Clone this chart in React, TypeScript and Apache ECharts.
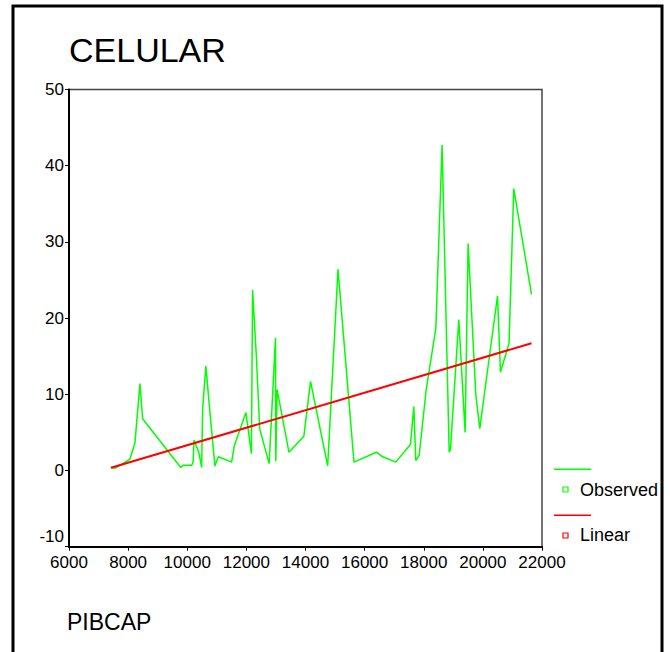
import React, { useEffect, useRef } from "react";
import * as echarts from "echarts";

const TITLE = "CELULAR";
const X_NAME = "PIBCAP";
const SERIES_NAMES = ["Observed", "Linear"];

// Observed: [PIBCAP, CELULAR], sorted by PIBCAP
const observedX = [
  7410, 7560, 7700, 8060, 8230, 8400, 8490, 9780, 9870, 10150, 10200, 10226,
  10390, 10487, 10520, 10630, 10780, 10936, 11050, 11500, 11590, 11985, 12170,
  12210, 12340, 12450, 12770, 12985, 12995, 13040, 13440, 13945, 14170, 14750,
  15100, 15640, 16400, 16610, 17050, 17550, 17665, 17730, 17845, 18080, 18410,
  18620, 18860, 18905, 19185, 19400, 19500, 19760, 19895, 20495, 20595, 20885,
  21045, 21645,
];
const observedY = [
  0.4, 0.3, 0.6, 1.5, 3.6, 11.4, 6.8, 0.4, 0.7, 0.7, 1.1, 4.0,
  2.4, 0.4, 8.0, 13.7, 7.1, 0.6, 1.8, 1.1, 3.2, 7.6, 2.2,
  23.7, 14.8, 5.5, 0.9, 17.4, 1.2, 10.6, 2.4, 4.5, 11.7, 0.6,
  26.4, 1.1, 2.4, 1.8, 1.1, 3.4, 8.4, 1.3, 2.0, 10.5, 18.7,
  42.7, 2.4, 2.8, 19.8, 5.0, 29.8, 10.0, 5.5, 22.9, 12.9, 16.7,
  37.0, 23.1,
];

// Linear fit line endpoints
const linearX = [7420, 21645];
const linearY = [0.35, 16.7];

const xTicks = [6000, 8000, 10000, 12000, 14000, 16000, 18000, 20000, 22000];
const yTicks = [-10, 0, 10, 20, 30, 40, 50];

const FONT = "'Liberation Sans', Arial, sans-serif";
const GREEN = "#00ff00";
const RED = "#ff0000";

export default function App() {
  const ref = useRef<HTMLDivElement>(null);

  useEffect(() => {
    if (!ref.current) return;
    const chart = echarts.init(ref.current, null, { renderer: "svg" });

    const observed = observedX.map((x, i) => [x, observedY[i]]);
    const linear = linearX.map((x, i) => [x, linearY[i]]);

    chart.setOption({
      animation: false,
      backgroundColor: "#ffffff",
      title: {
        text: TITLE,
        left: 64,
        top: 28,
        textStyle: {
          fontFamily: FONT,
          fontSize: 34,
          fontWeight: "normal",
          color: "#000",
        },
      },
      grid: {
        left: 69,
        top: 89.5,
        right: 128,
        bottom: 105.3,
        show: true,
        borderColor: "#444",
        borderWidth: 1.5,
        backgroundColor: "transparent",
      },
      xAxis: {
        type: "value",
        min: xTicks[0],
        max: xTicks[xTicks.length - 1],
        interval: 2000,
        splitLine: { show: false },
        axisLine: { show: true, onZero: false, lineStyle: { color: "#000", width: 2 } },
        axisTick: { show: true, length: 4, lineStyle: { color: "#000", width: 1 } },
        axisLabel: {
          fontFamily: FONT,
          fontSize: 17,
          color: "#000",
          margin: 7,
          showMinLabel: true,
          showMaxLabel: true,
          formatter: (v: number) => String(v),
        },
      },
      yAxis: {
        type: "value",
        min: yTicks[0],
        max: yTicks[yTicks.length - 1],
        interval: 10,
        splitLine: { show: false },
        axisLine: { show: true, onZero: false, lineStyle: { color: "#000", width: 2 } },
        axisTick: { show: true, length: 4, lineStyle: { color: "#000", width: 1 } },
        axisLabel: {
          fontFamily: FONT,
          fontSize: 17,
          color: "#000",
          margin: 5,
          showMinLabel: true,
          showMaxLabel: true,
          formatter: (v: number) => (v === yTicks[0] ? "{s|" + v + "}" : String(v)),
          rich: {
            s: {
              fontFamily: FONT,
              fontSize: 17,
              color: "#000",
              padding: [0, 0, 20, 0],
            },
          },
        },
      },
      series: [
        {
          name: SERIES_NAMES[0],
          type: "line",
          data: observed,
          showSymbol: false,
          symbol: "none",
          lineStyle: { color: GREEN, width: 1.5 },
          z: 2,
        },
        {
          name: SERIES_NAMES[1],
          type: "line",
          data: linear,
          showSymbol: false,
          symbol: "none",
          lineStyle: { color: RED, width: 2 },
          z: 3,
        },
      ],
      graphic: [
        {
          type: "rect",
          shape: { x: 13, y: 6, width: 649, height: 700 },
          style: { fill: "none", stroke: "#000", lineWidth: 3 },
          silent: true,
        },
        {
          type: "text",
          x: 67,
          y: 622,
          style: {
            text: X_NAME,
            fontFamily: FONT,
            fontSize: 23,
            fill: "#000",
            verticalAlign: "middle",
          },
        },
        {
          type: "rect",
          shape: { x: 554, y: 468.5, width: 37, height: 1.5 },
          style: { fill: GREEN, stroke: "none" },
        },
        {
          type: "rect",
          shape: { x: 563, y: 487, width: 5, height: 5 },
          style: { fill: "#fff", stroke: GREEN, lineWidth: 1.2 },
        },
        {
          type: "text",
          x: 580,
          y: 490,
          style: {
            text: SERIES_NAMES[0],
            fontFamily: FONT,
            fontSize: 18,
            fill: "#000",
            verticalAlign: "middle",
          },
        },
        {
          type: "rect",
          shape: { x: 554, y: 514.5, width: 37, height: 1.5 },
          style: { fill: RED, stroke: "none" },
        },
        {
          type: "rect",
          shape: { x: 563, y: 533, width: 5, height: 5 },
          style: { fill: "#fff", stroke: RED, lineWidth: 1.2 },
        },
        {
          type: "text",
          x: 580,
          y: 535,
          style: {
            text: SERIES_NAMES[1],
            fontFamily: FONT,
            fontSize: 18,
            fill: "#000",
            verticalAlign: "middle",
          },
        },
      ],
    });

    return () => chart.dispose();
  }, []);

  return (
    <div
      ref={ref}
      style={{ position: "absolute", left: 0, top: 0, width: 670, height: 652 }}
    />
  );
}
